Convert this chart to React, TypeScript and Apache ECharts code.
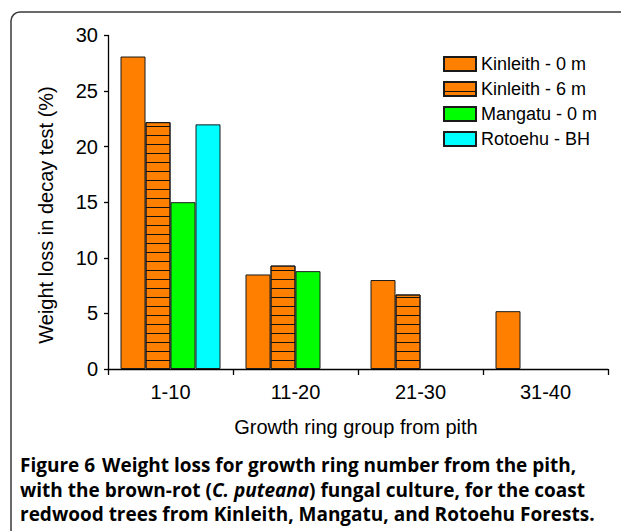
import React, { useEffect, useRef } from 'react';
import * as echarts from 'echarts';

const categories = ['1-10', '11-20', '21-30', '31-40'];
const seriesNames = ['Kinleith - 0 m', 'Kinleith - 6 m', 'Mangatu - 0 m', 'Rotoehu - BH'];
const kinleith0 = [28.1, 8.5, 8.0, 5.2];
const kinleith6 = [22.2, 9.3, 6.7, null];
const mangatu0 = [15.0, 8.8, null, null];
const rotoehuBH = [22.0, null, null, null];
const yMin = 0;
const yMax = 30;
const yInterval = 5;

const xTitle = 'Growth ring group from pith';
const yTitle = 'Weight loss in decay test (%)';

const FONT = 'Arial';
const CAP_FONT = 'Open Sans';

export default function App() {
  const ref = useRef<HTMLDivElement>(null);
  useEffect(() => {
    if (!ref.current) return;
    const chart = echarts.init(ref.current, undefined, { renderer: 'svg' });
    const barBase = {
      type: 'bar' as const,
      barGap: '0%',
      barCategoryGap: '20%',
      itemStyle: { borderColor: '#1a1a1a', borderWidth: 1 },
      emphasis: { disabled: true },
    };
    const LH = 24.5;
    const capRich = {
      b: { fontFamily: CAP_FONT, fontWeight: 'bold', fontSize: 19, lineHeight: LH, color: '#222' },
      n: { fontFamily: CAP_FONT, fontWeight: 'bold', fontSize: 19, lineHeight: LH, color: '#333' },
      s: { fontFamily: CAP_FONT, fontWeight: 'bold', fontSize: 19, lineHeight: LH, color: '#333', width: 7 },
      i: { fontFamily: CAP_FONT, fontWeight: 'bold', fontStyle: 'italic', fontSize: 19, lineHeight: LH, color: '#333' },
    };
    const caption =
      '{b|Figure 6}{s| }{n|Weight loss for growth ring number from the pith,}\n' +
      '{n|with the brown-rot (}{i|C. puteana}{n|) fungal culture, for the coast}\n' +
      '{n|redwood trees from Kinleith, Mangatu, and Rotoehu Forests.}';
    chart.setOption({
      animation: false,
      textStyle: { fontFamily: FONT },
      grid: { left: 108, right: 13, top: 35.4, bottom: 162, containLabel: false },
      legend: {
        orient: 'vertical',
        left: 438,
        top: 50,
        itemWidth: 32,
        itemHeight: 14,
        itemGap: 7,
        itemTextGap: 6,
        icon: 'rect',
        selectedMode: false,
        textStyle: { fontFamily: FONT, fontSize: 18, color: '#000' },
        data: seriesNames,
      },
      xAxis: {
        type: 'category',
        data: categories,
        boundaryGap: true,
        axisLine: { lineStyle: { color: '#000', width: 1.3 } },
        axisTick: { show: true, length: 6, inside: false, alignWithLabel: false, lineStyle: { color: '#000', width: 1.3 } },
        axisLabel: { fontFamily: FONT, fontSize: 20, color: '#000', margin: 13 },
      },
      yAxis: {
        type: 'value',
        min: yMin,
        max: yMax,
        interval: yInterval,
        splitLine: { show: false },
        axisLine: { show: true, lineStyle: { color: '#000', width: 1.3 } },
        axisTick: { show: true, length: 4, inside: false, lineStyle: { color: '#000', width: 1.3 } },
        axisLabel: { fontFamily: FONT, fontSize: 20, color: '#000', margin: 10 },
      },
      series: [
        { ...barBase, name: seriesNames[0], data: kinleith0, itemStyle: { ...barBase.itemStyle, color: '#FF8000' } },
        {
          ...barBase,
          name: seriesNames[1],
          data: kinleith6,
          itemStyle: {
            ...barBase.itemStyle,
            color: '#FF8000',
            decal: {
              symbol: 'rect',
              symbolSize: 1,
              color: '#111',
              backgroundColor: 'transparent',
              dashArrayX: [1, 0],
              dashArrayY: [1, 8],
              rotation: 0,
            },
          },
        },
        { ...barBase, name: seriesNames[2], data: mangatu0, itemStyle: { ...barBase.itemStyle, color: '#00FF00' } },
        { ...barBase, name: seriesNames[3], data: rotoehuBH, itemStyle: { ...barBase.itemStyle, color: '#00FFFF' } },
      ],
      graphic: [
        {
          type: 'rect',
          z: -1,
          shape: { x: 11, y: 12, width: 700, height: 700, r: 9 },
          style: { fill: 'none', stroke: '#3a3a3a', lineWidth: 1.5 },
          silent: true,
        },
        {
          type: 'text',
          x: 46,
          y: 215,
          rotation: Math.PI / 2,
          style: { text: yTitle, fontFamily: FONT, fontSize: 20, fill: '#000', align: 'center', verticalAlign: 'middle' },
        },
        {
          type: 'text',
          x: 356,
          y: 427,
          style: { text: xTitle, fontFamily: FONT, fontSize: 20, fill: '#000', align: 'center', verticalAlign: 'middle' },
        },
        {
          type: 'text',
          x: 20,
          y: 465 - LH / 2,
          style: {
            text: caption,
            rich: capRich,
            verticalAlign: 'top',
            align: 'left',
          },
        },
      ],
    });
    return () => chart.dispose();
  }, []);
  return (
    <div
      ref={ref}
      style={{ position: 'absolute', left: 0, top: 0, width: 621, height: 531, background: '#fff' }}
    />
  );
}
